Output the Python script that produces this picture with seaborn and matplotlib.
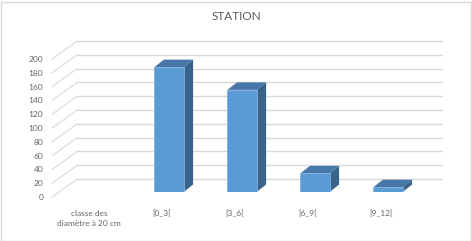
import numpy as np
import pandas as pd
import matplotlib
matplotlib.use("Agg")
import matplotlib.pyplot as plt
from matplotlib.patches import Polygon, Rectangle
import matplotlib.transforms as mtransforms
import seaborn as sns

# ---- data ----
categories = ["classe des\ndiamètre à 20 cm", "[0_3[", "[3_6[", "[6_9[", "[9_12["]
counts = [np.nan, 181, 148, 27, 7]
yticks = list(range(0, 201, 20))
title = "STATION"

sns.set_theme(style="white")
plt.rcParams['font.family'] = ['Lato', 'DejaVu Sans']

W, H, DPI = 472, 241, 100
fig = plt.figure(figsize=(W / DPI, H / DPI), dpi=DPI)
fig.patch.set_facecolor("white")

# axes = bar plane
ax_left_px, ax_w_px = 52.2, 365.0
ax_bot_px, ax_h_px = 49.0, 138.0
ax = fig.add_axes([ax_left_px / W, ax_bot_px / H, ax_w_px / W, ax_h_px / H])
ax.patch.set_alpha(0)

df = pd.DataFrame({"cat": categories, "n": counts}).dropna()
sns.barplot(data=df, x="cat", y="n", order=categories, color="#5B9BD5",
            width=0.4, saturation=1, ax=ax, zorder=3,
            edgecolor="#7FB0DD", linewidth=0.6)

ax.set_xlim(-0.6, 4.4)
ax.set_ylim(0, 200)

# unit conversions
xpx = ax_w_px / (4.4 - (-0.6))   # px per x unit
ypx = ax_h_px / 200.0            # px per y unit

# back wall + floor diagonals
depth_dx, depth_dy = 25.0, 13.0   # back wall offset (px)
front_dy = -5.0                   # front edge offset (px)
grid_c = "#D9D9D9"
x0, x1 = ax.get_xlim()
for v in yticks:
    yb = v + depth_dy / ypx
    ax.plot([x0 + depth_dx / xpx, x1 + depth_dx / xpx], [yb, yb],
            color=grid_c, lw=1.0, clip_on=False, zorder=1)
    ax.plot([x0, x0 + depth_dx / xpx], [v + front_dy / ypx, yb],
            color=grid_c, lw=0.8, clip_on=False, zorder=1)

# 3D faces of bars
bdx, bdy = 9.5 / xpx, 7.5 / ypx
for p in list(ax.patches):
    x, y = p.get_x(), p.get_y()
    w, h = p.get_width(), p.get_height()
    if not np.isfinite(h):
        continue
    side = Polygon([(x + w, y), (x + w, y + h), (x + w + bdx, y + h + bdy), (x + w + bdx, y + bdy)],
                   closed=True, facecolor="#3A6389", edgecolor="none", zorder=2.9, clip_on=False)
    top = Polygon([(x, y + h), (x + w, y + h), (x + w + bdx, y + h + bdy), (x + bdx, y + h + bdy)],
                  closed=True, facecolor="#4677A8", edgecolor="none", zorder=2.9, clip_on=False)
    ax.add_patch(side)
    ax.add_patch(top)

# ticks
ax.set_yticks(yticks)
ax.set_yticklabels([str(v) for v in yticks])
ax.set_xticks(range(len(categories)))
ax.set_xticklabels(categories)
ax.tick_params(axis="y", length=0, pad=6.5, labelsize=6, labelcolor="#666666")
ax.tick_params(axis="x", length=0, pad=13, labelsize=6, labelcolor="#666666")
for lab in ax.get_yticklabels():
    lab.set_transform(lab.get_transform() + mtransforms.ScaledTranslation(0, -5 / DPI, fig.dpi_scale_trans))
for lab in ax.get_xticklabels():
    lab.set_transform(lab.get_transform() + mtransforms.ScaledTranslation(-7 / DPI, 0, fig.dpi_scale_trans))
    lab.set_linespacing(1.45)
ax.set_xlabel("")
ax.set_ylabel("")
for s in ax.spines.values():
    s.set_visible(False)
ax.grid(False)

fig.text(236 / W, 1 - 17 / H, title, ha="center", va="center", fontsize=8.5, color="#595959")

fig.patches.append(Rectangle((0.5 / W, 0.5 / H), (W - 2) / W, (H - 2) / H, transform=fig.transFigure,
                             fill=False, edgecolor="#D9D9D9", lw=1.0))

fig.savefig("out.png", dpi=DPI)
